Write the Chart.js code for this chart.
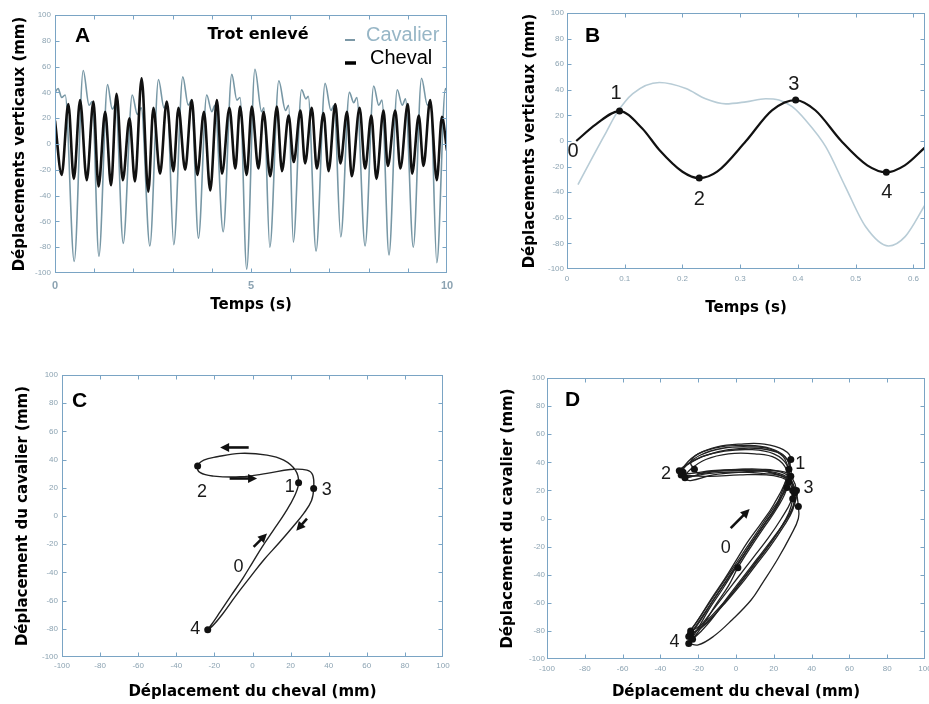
<!DOCTYPE html>
<html>
<head>
<meta charset="utf-8">
<script src="https://cdn.jsdelivr.net/npm/chart.js@4.4.0/dist/chart.umd.min.js"></script>
<style>
  body { margin: 0; background: #fff; width: 929px; height: 704px; overflow: hidden; position: relative; }
  canvas { position: absolute; }
</style>
</head>
<body>
<canvas id="cA" width="460" height="330" style="left:0;top:0"></canvas>
<canvas id="cB" width="469" height="330" style="left:460px;top:0"></canvas>
<canvas id="cC" width="460" height="364" style="left:0;top:340px"></canvas>
<canvas id="cD" width="469" height="364" style="left:460px;top:340px"></canvas>
<script>
// ---- données ----
// A : trot enlevé, 10 s  [temps (s), déplacement (mm)]
const chevalA = [[0,18],[0.17,-24],[0.34,31],[0.48,-27],[0.64,34],[0.81,-28],[0.98,33],[1.11,-33],[1.28,25],[1.43,-32],
  [1.57,39],[1.73,-28],[1.9,20],[2.04,-29],[2.21,51],[2.38,-37],[2.51,28],[2.68,-23],[2.85,33],[3.02,-21],
  [3.15,28],[3.32,-20],[3.49,34],[3.63,-24],[3.8,25],[3.96,-36],[4.13,34],[4.26,-23],[4.45,28],[4.6,-19],
  [4.72,29],[4.89,-24],[5.02,29],[5.19,-19],[5.32,25],[5.49,-25],[5.66,29],[5.79,-21],[5.96,22],[6.09,-14],
  [6.26,26],[6.38,-15],[6.55,28],[6.68,-19],[6.85,24],[6.98,-21],[7.15,31],[7.28,-15],[7.45,25],[7.57,-25],
  [7.77,28],[7.91,-19],[8.07,22],[8.2,-27],[8.38,26],[8.49,-17],[8.68,26],[8.81,-19],[9.0,31],[9.11,-23],
  [9.28,22],[9.4,-17],[9.57,34],[9.74,-28],[9.87,21],[10,-5]];
const cavalierA = [[0,40],[0.08,43],[0.17,36],[0.26,38],[0.49,-91],[0.72,57],[0.87,30],[0.95,33],[1.12,-87],
  [1.34,46],[1.46,27],[1.55,31],[1.74,-77],[1.97,38],[2.1,23],[2.2,28],[2.42,-79],[2.64,50],[2.78,28],[2.86,32],
  [3.03,-78],[3.26,52],[3.4,30],[3.48,34],[3.66,-73],[3.87,38],[4.0,25],[4.08,30],[4.29,-68],[4.51,54],
  [4.64,34],[4.72,36],[4.89,-97],[5.1,58],[5.27,25],[5.33,28],[5.48,-80],[5.71,49],[5.88,26],[5.96,30],
  [6.08,-76],[6.29,42],[6.4,35],[6.46,37],[6.66,-83],[6.89,47],[7.04,26],[7.12,30],[7.29,-72],[7.51,40],
  [7.62,32],[7.7,36],[7.91,-79],[8.13,45],[8.26,30],[8.34,34],[8.52,-86],[8.73,42],[8.86,30],[8.94,35],
  [9.14,-80],[9.35,51],[9.5,30],[9.58,34],[9.74,-92],[9.96,43],[10,40]];

// B : une foulée
const chevalB = [[0.016,0],[0.05,13],[0.091,23.4],[0.13,10],[0.16,-7],[0.2,-24],[0.229,-29],[0.26,-24],
  [0.31,0],[0.355,24],[0.396,32],[0.43,24],[0.475,0],[0.52,-19],[0.553,-24.4],[0.585,-19],[0.62,-5]];
const cavalierB = [[0.019,-34],[0.045,-12],[0.068,7],[0.085,21],[0.114,37],[0.16,45.7],[0.206,41],[0.24,33],
  [0.275,29],[0.31,30.6],[0.344,33],[0.367,32],[0.39,26.8],[0.413,16.4],[0.448,-4.4],[0.482,-35.6],
  [0.517,-66.8],[0.557,-82],[0.586,-74.5],[0.62,-50]];
const pointsB = [[0.091,23.4],[0.229,-29],[0.396,32],[0.553,-24.4]];
const etiquettesB = [['0',0.0104,-8.3],['1',0.085,37],['2',0.229,-45.5],['3',0.393,44],['4',0.554,-40]];

// C : cheval (x) / cavalier (y), une foulée
const boucleC = [[-23.5,-80.6],[-21,-76],[-17,-68],[-11,-56],[-5,-44],[0,-33],[5,-22],[11,-10],[17,2],[22,14],
  [24.2,23.6],[22.5,32.5],[16.4,39.6],[7.6,43.2],[-6.4,44.4],[-18.6,42],[-25.6,39.6],[-28.8,35.4],
  [-27.4,30.7],[-20.4,28.3],[-6.4,27.8],[7.6,30.2],[19.8,33],[28.6,32.5],[31.6,29],[32.1,19.5],
  [31,11],[27,2],[21,-8],[14,-19],[6,-31],[-1,-43],[-9,-57],[-16,-70],[-21,-78],[-23.5,-80.6]];
const pointsC = [[24.2,23.6],[-28.8,35.4],[32.1,19.5],[-23.5,-80.6]];
const etiquettesC = [['2',-26.5,17],['1',19.5,20.7],['3',39,18.3],['0',-7.3,-36],['4',-30,-80]];
const flechesC = [[-2,48.6,-17,48.6],[-12,26.6,2.4,26.6],[0.6,-21.9,7.6,-12.4],[28.6,-1.8,23,-10.5]];

// D : plusieurs foulées
const boucleD1 = [[-24,-82],[-18,-70],[-10,-54],[-3,-40],[4,-26],[11,-12],[18,2],[24,15],[28,26],[27,38],[20,46],
  [8,49],[-6,48],[-18,44],[-26,38],[-28,33],[-25,30],[-15,32],[0,33],[15,32],[25,30],[30,25],[31,18],[30,8],
  [25,-4],[18,-18],[10,-32],[2,-46],[-6,-60],[-14,-72],[-20,-79],[-24,-82]];
const boucleD2 = [[-25,-84],[-19,-73],[-12,-58],[-5,-44],[2,-30],[9,-16],[16,-2],[23,12],[28,35],[26,44],[18,50],
  [6,52],[-8,51],[-20,46],[-27,38],[-29,31],[-26,29],[-16,33],[-2,34],[12,34],[23,32],[29,27],[30,20],[29,12],
  [24,0],[17,-14],[9,-28],[1,-42],[-7,-56],[-15,-70],[-21,-80],[-25,-84]];
const boucleD3 = [[-25,-89],[-20,-78],[-14,-64],[-7,-50],[0,-35],[7,-20],[14,-6],[21,8],[29,42],[25,49],[15,53],
  [2,53],[-10,51],[-20,46],[-24,40],[-22,35],[-20,32],[-8,34],[5,35],[17,33],[26,29],[31,22],[33,8.5],[33,0],
  [29,-12],[22,-29],[14,-46],[8,-58],[-2,-72],[-12,-84],[-20,-90],[-25,-89]];
const boucleD4 = [[-24,-80],[-17,-66],[-9,-50],[-2,-36],[5,-22],[12,-8],[19,6],[25,18],[29,30],[28,40],[22,47],
  [10,50],[-4,49],[-16,45],[-25,39],[-30,34],[-27,31],[-14,30],[2,31],[16,31],[26,28],[30,21],[30,14],[28,4],
  [23,-8],[16,-22],[8,-36],[0,-50],[-8,-62],[-15,-72],[-21,-78],[-24,-80]];
const boucleD5 = [[-23,-86],[-17,-75],[-11,-62],[-4,-48],[1,-35],[8,-20],[15,-6],[22,8],[27,22],[27,34],[21,43],
  [10,46],[-4,46],[-16,42],[-24,35],[-27,29],[-24,27],[-12,31],[3,33],[17,34],[26,33],[30,28],[32,20],[31,10],
  [26,-2],[19,-15],[11,-29],[3,-43],[-5,-57],[-13,-72],[-19,-81],[-23,-86]];
const boucleD6 = [[-26,-83],[-20,-72],[-13,-57],[-6,-43],[0,-30],[6,-17],[13,-4],[20,10],[27,30],[26,42],[19,49],
  [7,51],[-7,50],[-19,45],[-27,37],[-29,33],[-25,32],[-13,34],[1,35],[14,35],[24,33],[29,28],[31,16],[30,6],
  [25,-6],[18,-20],[10,-34],[2,-48],[-7,-62],[-15,-74],[-22,-81],[-26,-83]];
const pointsD = [[28,26],[28,35],[29,42],[29,30],[27,22],[-28,33],[-29,31],[-22,35],[-30,34],[-27,29],
  [31,18],[30,20],[33,8.5],[30,14],[32,20],[-24,-82],[-25,-84],[-25,-89],[-24,-80],[-23,-86],[1,-35]];
const etiquettesD = [['2',-37,32],['1',34,39],['3',38.4,21.6],['0',-5.4,-21],['4',-32.6,-87.6]];
const flechesD = [[-2.8,-6.9,7.2,6.7]];

// ---- styles ----
const couleurCadre = '#7aa4c4';
const couleurGrad = '#8ca3b2';
const policeTitre = {family: 'DejaVu Sans', weight: 'bold', size: 15};
const pts = a => a.map(p => ({x: p[0], y: p[1]}));

function axeX(min, max, pas, hauteur, titre, basTitre, police, pad, rappel) {
  return {
    type: 'linear', min: min, max: max,
    grid: {display: false, drawTicks: false}, border: {display: false},
    ticks: {stepSize: pas, autoSkip: false, maxRotation: 0, includeBounds: false, padding: pad,
      color: couleurGrad, font: police, callback: rappel},
    title: {display: true, text: titre, color: '#000', font: policeTitre, padding: {top: 0, bottom: basTitre}},
    afterFit: function (s) { s.height = hauteur; s.paddingLeft = 0; s.paddingRight = 0; }
  };
}
function axeY(largeur, titre, hautTitre, pad) {
  return {
    type: 'linear', min: -100, max: 100,
    grid: {display: false, drawTicks: false}, border: {display: false},
    ticks: {stepSize: 20, autoSkip: false, padding: pad, color: couleurGrad,
      font: {family: 'Liberation Sans', size: 8}},
    title: {display: true, text: titre, color: '#000', font: policeTitre, padding: {top: hautTitre, bottom: 0}},
    afterFit: function (s) { s.width = largeur; s.paddingTop = 0; s.paddingBottom = 0; }
  };
}

function fleche(ctx, x0, y0, x1, y1) {
  const ang = Math.atan2(y1 - y0, x1 - x0), L = 9, W = 4.5;
  const c = Math.cos(ang), s = Math.sin(ang);
  ctx.beginPath();
  ctx.moveTo(x0, y0);
  ctx.lineTo(x1 - L * 0.6 * c, y1 - L * 0.6 * s);
  ctx.lineWidth = 2.6; ctx.strokeStyle = '#111'; ctx.stroke();
  ctx.beginPath();
  ctx.moveTo(x1, y1);
  ctx.lineTo(x1 - L * c + W * s, y1 - L * s - W * c);
  ctx.lineTo(x1 - L * c - W * s, y1 - L * s + W * c);
  ctx.closePath(); ctx.fillStyle = '#111'; ctx.fill();
}

// cadre, graduations internes, lettres et annotations
function habillage(cfg) {
  return {
    id: 'habillage',
    afterDatasetsDraw(chart) {
      const ctx = chart.ctx, a = chart.chartArea, sx = chart.scales.x, sy = chart.scales.y;
      ctx.save();
      ctx.strokeStyle = couleurCadre; ctx.lineWidth = 1;
      const l = Math.round(a.left) + 0.5, t = Math.round(a.top) + 0.5;
      const r = Math.round(a.right) - 0.5, b = Math.round(a.bottom) - 0.5;
      ctx.strokeRect(l, t, r - l, b - t);
      ctx.beginPath();
      sx.ticks.forEach(k => {
        const px = Math.min(r, Math.max(l, Math.round(sx.getPixelForValue(k.value)) + 0.5));
        ctx.moveTo(px, b); ctx.lineTo(px, b - 4);
        ctx.moveTo(px, t); ctx.lineTo(px, t + 4);
      });
      sy.ticks.forEach(k => {
        const py = Math.min(b, Math.max(t, Math.round(sy.getPixelForValue(k.value)) + 0.5));
        ctx.moveTo(l, py); ctx.lineTo(l + 4, py);
        ctx.moveTo(r, py); ctx.lineTo(r - 4, py);
      });
      ctx.stroke();
      (cfg.fleches || []).forEach(f => fleche(ctx, sx.getPixelForValue(f[0]), sy.getPixelForValue(f[1]),
        sx.getPixelForValue(f[2]), sy.getPixelForValue(f[3])));
      ctx.fillStyle = '#1a1a1a';
      ctx.font = cfg.police || '18px "Liberation Sans"';
      ctx.textAlign = 'center'; ctx.textBaseline = 'middle';
      (cfg.etiquettes || []).forEach(e => ctx.fillText(e[0], sx.getPixelForValue(e[1]), sy.getPixelForValue(e[2])));
      ctx.fillStyle = '#000';
      ctx.font = 'bold 21px "Liberation Sans"';
      ctx.textAlign = 'left';
      ctx.fillText(cfg.lettre, a.left + cfg.dx, a.top + cfg.dy);
      if (cfg.legende) {
        ctx.font = 'bold 16px "DejaVu Sans"';
        ctx.textAlign = 'center';
        ctx.fillText('Trot enlevé', a.left + 203, a.top + 20);
        ctx.textAlign = 'left';
        ctx.font = '20px "Liberation Sans"';
        ctx.fillStyle = '#97b6c6';
        ctx.fillText('Cavalier', a.left + 311, a.top + 20);
        ctx.fillStyle = '#000';
        ctx.fillText('Cheval', a.left + 315, a.top + 43);
        ctx.beginPath(); ctx.strokeStyle = '#7c98a6'; ctx.lineWidth = 2;
        ctx.moveTo(a.left + 290, a.top + 25); ctx.lineTo(a.left + 300, a.top + 25); ctx.stroke();
        ctx.beginPath(); ctx.strokeStyle = '#000'; ctx.lineWidth = 3.5;
        ctx.moveTo(a.left + 290, a.top + 48); ctx.lineTo(a.left + 301, a.top + 48); ctx.stroke();
      }
      ctx.restore();
    }
  };
}

const base = {
  responsive: false, animation: false, devicePixelRatio: 1,
  plugins: {legend: {display: false}, tooltip: {enabled: false}},
  elements: {point: {radius: 0}}
};
function opts(padding, x, y) {
  return Object.assign({}, base, {layout: {padding: padding}, scales: {x: x, y: y}});
}
function courbe(data, couleur, epaisseur, mode) {
  const d = {data: pts(data), showLine: true, borderColor: couleur, borderWidth: epaisseur, pointRadius: 0, fill: false};
  if (mode) d.cubicInterpolationMode = 'monotone'; else d.tension = 0.4;
  return d;
}
function marques(data) {
  return {data: pts(data), showLine: false, pointRadius: 3.5, pointBackgroundColor: '#111', pointBorderWidth: 0};
}

// A
new Chart(document.getElementById('cA'), {
  type: 'scatter',
  data: {datasets: [courbe(chevalA, '#111', 2.6, true), courbe(cavalierA, '#7797a5', 1.6, true)]},
  options: opts({left: 0, top: 15, right: 13, bottom: 0},
    axeX(0, 10, 1, 57, 'Temps (s)', 16, {family: 'Liberation Sans', size: 11, weight: 'bold'}, 6,
      v => (v % 5 === 0 ? v : '')),
    axeY(55, 'Déplacements verticaux (mm)', 11, 4)),
  plugins: [habillage({lettre: 'A', dx: 20, dy: 21, legende: true})]
});

// B
new Chart(document.getElementById('cB'), {
  type: 'scatter',
  data: {datasets: [marques(pointsB), courbe(chevalB, '#111', 2.2, true), courbe(cavalierB, '#b8ccd6', 1.6, true)]},
  options: opts({left: 0, top: 13, right: 4, bottom: 0},
    axeX(0, 0.62, 0.1, 61, 'Temps (s)', 13, {family: 'Liberation Sans', size: 8}, 5,
      v => String(Math.round(v * 10) / 10)),
    axeY(107, 'Déplacements verticaux (mm)', 61, 3)),
  plugins: [habillage({lettre: 'B', dx: 18, dy: 23, etiquettes: etiquettesB, police: '20px "Liberation Sans"'})]
});

// C
new Chart(document.getElementById('cC'), {
  type: 'scatter',
  data: {datasets: [marques(pointsC), courbe(boucleC, '#222', 1.4)]},
  options: opts({left: 0, top: 35, right: 17, bottom: 0},
    axeX(-100, 100, 20, 47, 'Déplacement du cheval (mm)', 3, {family: 'Liberation Sans', size: 8}, 4),
    axeY(62, 'Déplacement du cavalier (mm)', 14, 4)),
  plugins: [habillage({lettre: 'C', dx: 10, dy: 26, etiquettes: etiquettesC, fleches: flechesC})]
});

// D
new Chart(document.getElementById('cD'), {
  type: 'scatter',
  data: {datasets: [marques(pointsD), courbe(boucleD1, '#222', 1.3), courbe(boucleD2, '#222', 1.3),
    courbe(boucleD3, '#222', 1.3), courbe(boucleD4, '#222', 1.3), courbe(boucleD5, '#222', 1.3),
    courbe(boucleD6, '#222', 1.3)]},
  options: opts({left: 0, top: 38, right: 2, bottom: 0},
    axeX(-100, 100, 20, 45, 'Déplacement du cheval (mm)', 3, {family: 'Liberation Sans', size: 8}, 5),
    axeY(87, 'Déplacement du cavalier (mm)', 39, 2)),
  plugins: [habillage({lettre: 'D', dx: 18, dy: 22, etiquettes: etiquettesD, fleches: flechesD})]
});
</script>
</body>
</html>
